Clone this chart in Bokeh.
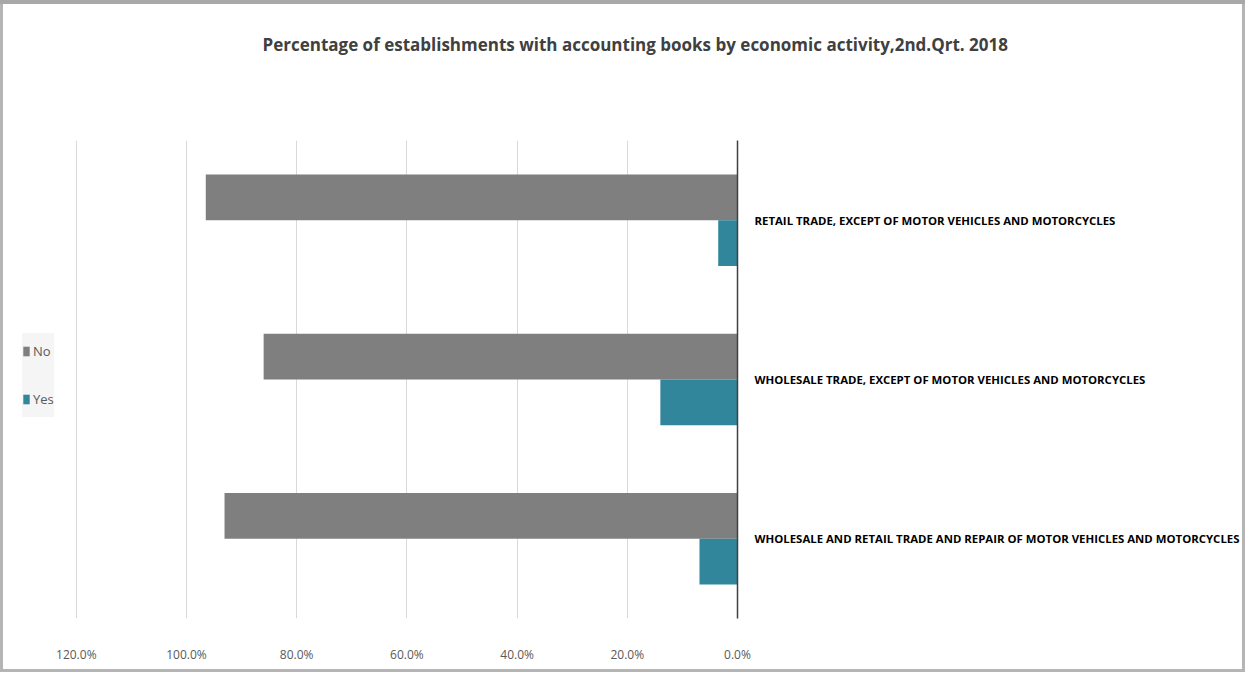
from bokeh.plotting import figure
from bokeh.models import (Range1d, FactorRange, Legend, LegendItem, NumeralTickFormatter,
                          FixedTicker, Title, ColumnDataSource)
from bokeh.transform import dodge
from bokeh.embed import file_html
from bokeh.resources import INLINE

# ---- data ----
categories = [
    "WHOLESALE AND RETAIL TRADE AND REPAIR OF MOTOR VEHICLES AND MOTORCYCLES",
    "WHOLESALE TRADE, EXCEPT OF MOTOR VEHICLES AND MOTORCYCLES",
    "RETAIL TRADE, EXCEPT OF MOTOR VEHICLES AND MOTORCYCLES",
]
no_values = [0.931, 0.860, 0.965]
yes_values = [0.069, 0.140, 0.035]
x_ticks = [0.0, 0.2, 0.4, 0.6, 0.8, 1.0, 1.2]
series_names = ["No", "Yes"]
title_text = "Percentage of establishments with accounting books by economic activity,2nd.Qrt. 2018"

FONT = "Open Sans"
NO_COLOR = "#7f7f7f"
YES_COLOR = "#31869b"

W, H = 1245, 672
FRAME_L, FRAME_R, FRAME_T, FRAME_B = 8, 737, 140, 618
PX_PER_UNIT = 551.0  # pixels per 100 %

src = ColumnDataSource(dict(cat=categories, no=no_values, yes=yes_values))

p = figure(
    width=W, height=H,
    y_range=FactorRange(*categories),
    x_range=Range1d(start=(FRAME_R - FRAME_L) / PX_PER_UNIT, end=0.0),
    y_axis_location="right",
    output_backend="svg", toolbar_location=None,
    min_border_left=FRAME_L, min_border_right=W - FRAME_R,
    min_border_top=FRAME_T, min_border_bottom=H - FRAME_B,
)
p.border_fill_color = None
p.styles = {
    "background": "white",
    "box-shadow": "inset 0 4px 0 0 #a8a8a8, inset 0 0 0 3px #b5b5b5",
}
p.outline_line_color = None
p.title.text = ""
p.title.text_font_size = "1px"

no_r = p.hbar(y=dodge("cat", 0.1435, range=p.y_range), left=0, right="no", height=0.2875,
              source=src, fill_color=NO_COLOR, line_color=None)
yes_r = p.hbar(y=dodge("cat", -0.1435, range=p.y_range), left=0, right="yes", height=0.2875,
               source=src, fill_color=YES_COLOR, line_color=None)

# spacer + real title (later additions sit further from the frame)
p.add_layout(Title(text=" ", text_font=FONT, text_font_size="50px"), "above")
p.add_layout(Title(text=title_text, align="left", offset=254, text_font=FONT, text_font_size="17px",
                   text_font_style="bold", text_color="#404040"), "above")

# x axis
xa = p.xaxis[0]
xa.ticker = FixedTicker(ticks=x_ticks)
xa.formatter = NumeralTickFormatter(format="0.0%")
xa.axis_line_color = None
xa.major_tick_line_color = None
xa.minor_tick_line_color = None
xa.major_tick_out = 0
xa.major_tick_in = 0
xa.major_label_standoff = 27
xa.major_label_text_font = FONT
xa.major_label_text_font_size = "12px"
xa.major_label_text_color = "#595959"

# y axis (right)
ya = p.yaxis[0]
ya.axis_line_color = "#404040"
ya.axis_line_width = 1.5
ya.major_tick_line_color = None
ya.minor_tick_line_color = None
ya.major_tick_out = 0
ya.major_tick_in = 0
ya.major_label_standoff = 17
ya.major_label_text_font = FONT
ya.major_label_text_font_size = "11.4px"
ya.major_label_text_font_style = "bold"
ya.major_label_text_color = "#000000"

p.xgrid.grid_line_color = "#d9d9d9"
p.ygrid.grid_line_color = None

legend = Legend(
    items=[LegendItem(label=series_names[0], renderers=[no_r]),
           LegendItem(label=series_names[1], renderers=[yes_r])],
    location=(14, 201),
    orientation="vertical",
    padding=11, spacing=12, margin=0,
    glyph_width=8, glyph_height=12, label_height=36, label_width=19, label_standoff=3,
    label_text_font=FONT, label_text_font_size="13px", label_text_color="#595959",
    background_fill_color="#f5f5f5", background_fill_alpha=1.0,
    border_line_color=None,
)
p.add_layout(legend, "center")

open("out.html", "w").write(file_html(p, INLINE))
